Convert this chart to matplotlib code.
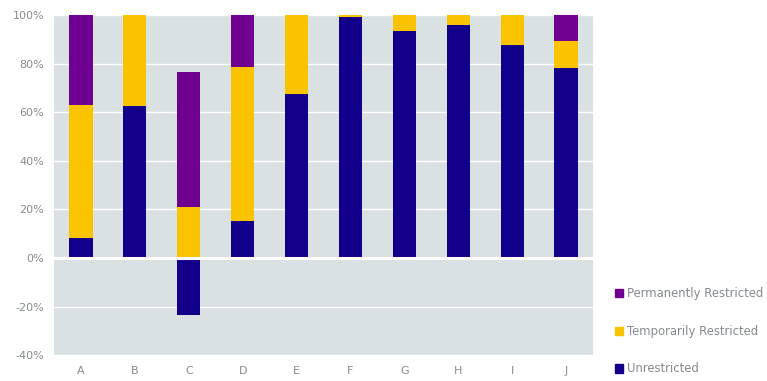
import matplotlib
matplotlib.use("Agg")
import matplotlib.pyplot as plt
from matplotlib.patches import Patch
import numpy as np

categories = ["A", "B", "C", "D", "E", "F", "G", "H", "I", "J"]
unrestricted = [8.4, 62.6, -23.3, 15.4, 67.5, 99.2, 93.4, 95.8, 87.7, 78.2]
temporarily = [54.6, 37.4, 21.0, 63.2, 32.5, 0.8, 6.6, 4.2, 12.3, 11.1]
permanently = [37.0, 0.0, 55.6, 21.4, 0.0, 0.0, 0.0, 0.0, 0.0, 10.7]
yticks = [-40, -20, 0, 20, 40, 60, 80, 100]

c_unres = "#12008b"
c_temp = "#f9c300"
c_perm = "#700090"
grey_txt = "#858b8e"

plt.rcParams["font.family"] = ["DejaVu Sans"]

fig = plt.figure(figsize=(7.67, 3.81), dpi=100)
ax = fig.add_axes([54 / 767, 25.7 / 381, 539 / 767, 340.3 / 381])
ax.set_facecolor("#dae1e3")

x = np.arange(len(categories))
un = np.array(unrestricted)
te = np.array(temporarily)
pe = np.array(permanently)
base_t = np.where(un > 0, un, 0)
w = 0.43
ax.bar(x, un, w, color=c_unres, zorder=3)
ax.bar(x, te, w, bottom=base_t, color=c_temp, zorder=3)
ax.bar(x, pe, w, bottom=base_t + te, color=c_perm, zorder=3)

ax.set_xlim(-0.5, len(categories) - 0.5)
ax.set_ylim(-40, 100)
ax.set_yticks(yticks)
ax.set_yticklabels([f"{v}%" for v in yticks])
ax.set_xticks(x)
ax.set_xticklabels(categories)
ax.yaxis.grid(True, color="white", linewidth=1.0, zorder=1)
ax.axhline(0, color="white", linewidth=2.2, zorder=4)
for s in ax.spines.values():
    s.set_visible(False)
ax.tick_params(length=0, colors=grey_txt, labelsize=8)
ax.tick_params(axis="y", pad=7)
ax.tick_params(axis="x", pad=8)

handles = [Patch(color=c_perm, label="Permanently Restricted"),
           Patch(color=c_temp, label="Temporarily Restricted"),
           Patch(color=c_unres, label="Unrestricted")]
leg = fig.legend(handles=handles, loc="lower left",
                 bbox_to_anchor=(604 / 767, -5.0 / 381), frameon=False,
                 handlelength=0.72, handleheight=0.72, handletextpad=0.35,
                 labelspacing=2.12, fontsize=8.4)
for t in leg.get_texts():
    t.set_color(grey_txt)

fig.savefig("out.png", dpi=100)
